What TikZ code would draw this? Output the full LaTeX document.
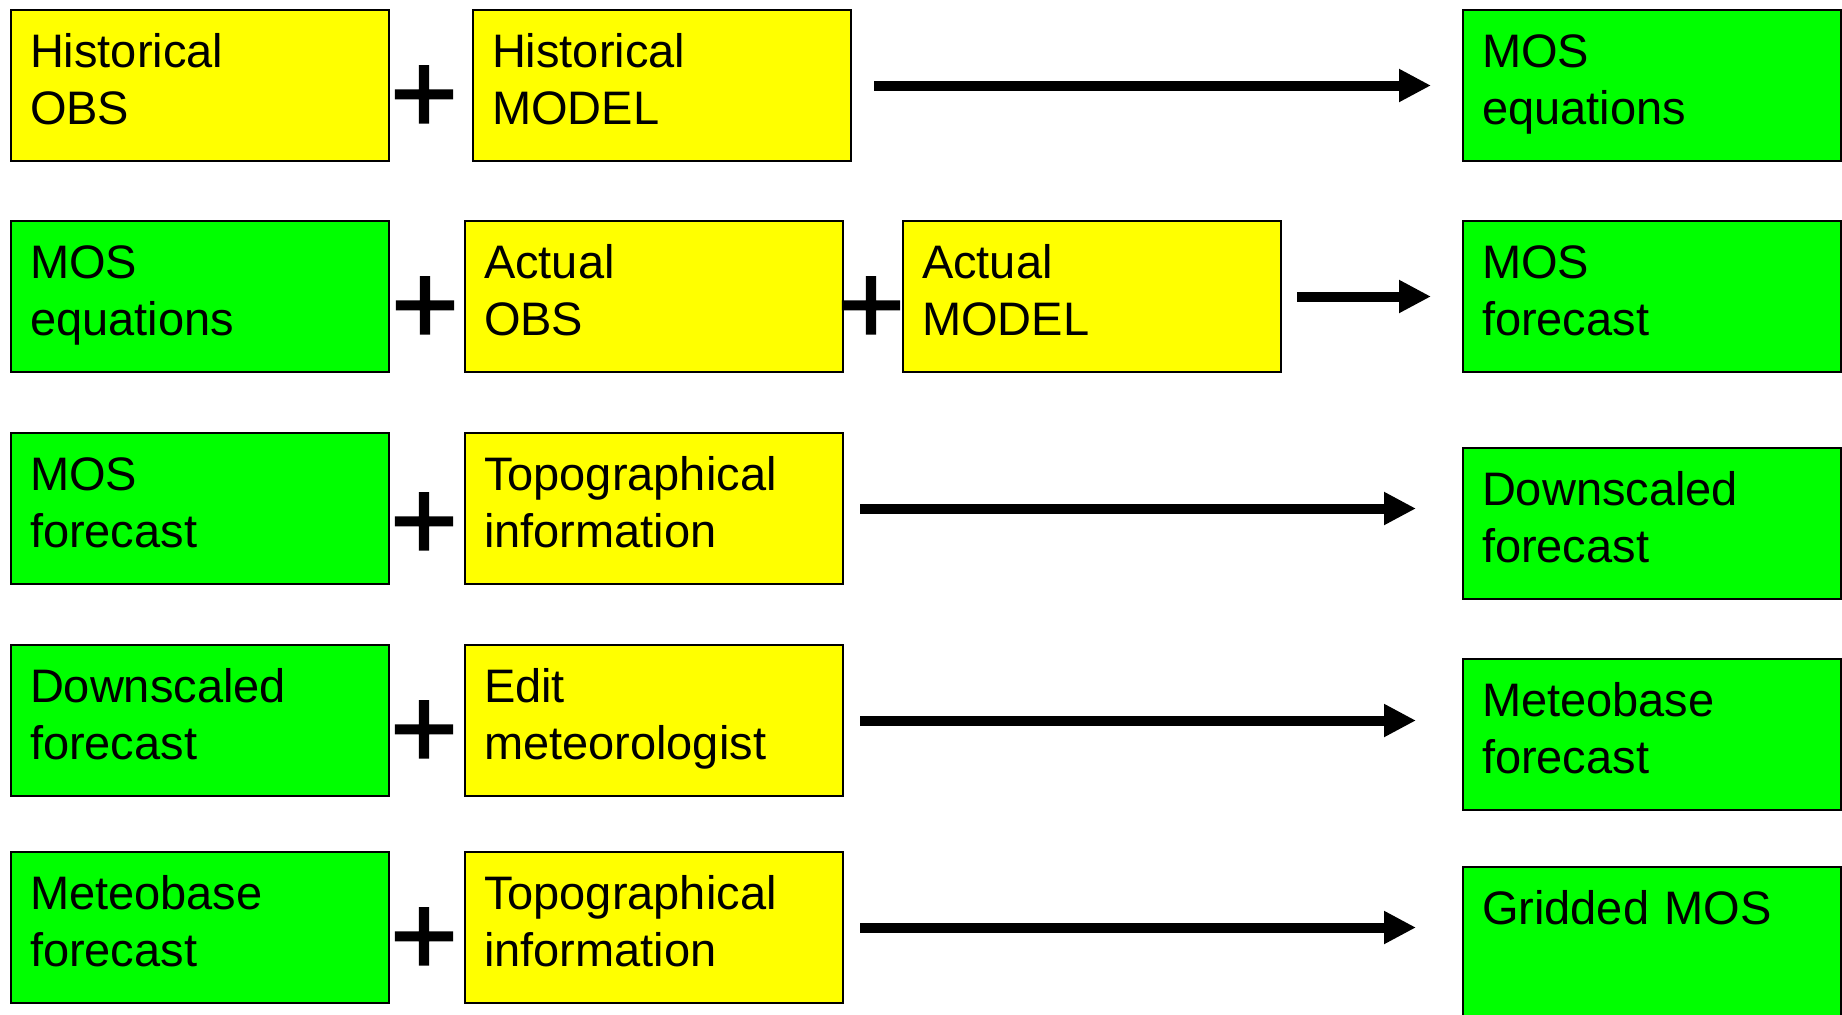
\documentclass[tikz,border=0pt]{standalone}
\usepackage{fontspec}
\setmainfont{Liberation Sans}
\newfontfamily\plusfont[FakeBold=1.5]{Liberation Sans}
\usetikzlibrary{arrows.meta,calc}
\definecolor{boxyellow}{RGB}{255,255,0}
\definecolor{boxgreen}{RGB}{0,255,0}
\begin{document}
\begin{tikzpicture}[x=0.5pt,y=-0.5pt,
  box/.style={draw=black, line width=1pt, anchor=north west, inner xsep=9.5pt, inner ysep=0pt,
    text width=170pt, align=left, text height=28.5pt, text depth=47pt,
    font=\fontsize{23.5}{28.75}\selectfont},
  yel/.style={box, fill=boxyellow},
  grn/.style={box, fill=boxgreen},
  plussign/.style={inner sep=0pt, anchor=base, font=\plusfont\fontsize{58}{60}\selectfont},
  bigarrow/.style={line width=5pt, -{Triangle[length=16pt,width=15.5pt]}}]
\useasboundingbox (0,0) rectangle (1842,1014);
\clip (0,0) rectangle (1842,1014);
\fill[white] (0,0) rectangle (1842,1014);
% row 1
\node[yel] (hobs) at (10,9) {Historical\\OBS};
\node[yel] (hmod) at (472,9) {Historical\\MODEL};
\node[grn] (moseq) at (1462,9) {MOS\\equations};
\node[plussign] (p1) at (424,133) {+};
\draw[bigarrow] ($(hmod.east)+(22,0)$) -- ($(moseq.west |- hmod.east)+(-31,0)$);
% row 2
\node[grn] (moseqb) at (10,220) {MOS\\equations};
\node[yel] (aobs) at (464,220) {Actual\\OBS};
\node[yel] (amod) at (902,220) {Actual\\MODEL};
\node[grn] (mosf) at (1462,220) {MOS\\forecast};
\node[plussign] (p2) at (425,344) {+};
\node[plussign] (p3) at (871,344) {+};
\draw[bigarrow] ($(amod.east)+(15,0)$) -- ($(mosf.west |- amod.east)+(-31,0)$);
% row 3
\node[grn] (mosfb) at (10,432) {MOS\\forecast};
\node[yel] (topoa) at (464,432) {Topographical\\information};
\node[grn] (down) at (1462,447) {Downscaled\\forecast};
\node[plussign] (p4) at (424,560) {+};
\draw[bigarrow] ($(topoa.east)+(16,0)$) -- ($(down.west |- topoa.east)+(-46,0)$);
% row 4
\node[grn] (downb) at (10,644) {Downscaled\\forecast};
\node[yel] (edit) at (464,644) {Edit\\meteorologist};
\node[grn] (meteo) at (1462,658) {Meteobase\\forecast};
\node[plussign] (p5) at (424,768) {+};
\draw[bigarrow] ($(edit.east)+(16,0)$) -- ($(meteo.west |- edit.east)+(-46,0)$);
% row 5
\node[grn] (meteob) at (10,851) {Meteobase\\forecast};
\node[yel] (topob) at (464,851) {Topographical\\information};
\node[grn] (grid) at (1462,866) {Gridded MOS};
\node[plussign] (p6) at (424,975) {+};
\draw[bigarrow] ($(topob.east)+(16,0)$) -- ($(grid.west |- topob.east)+(-46,0)$);
\end{tikzpicture}
\end{document}
